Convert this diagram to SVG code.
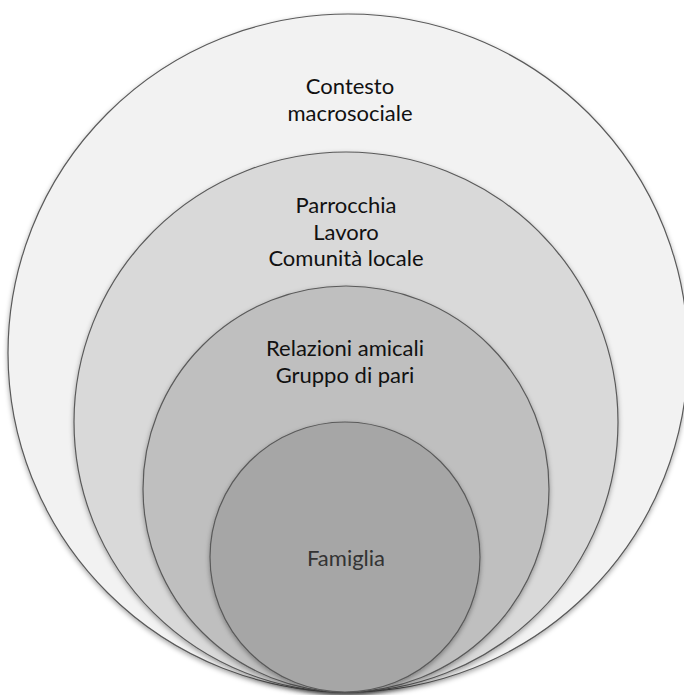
<svg xmlns="http://www.w3.org/2000/svg" width="684" height="695" viewBox="0 0 684 695">
<defs>
<filter id="sh" x="-5%" y="-5%" width="110%" height="112%">
<feDropShadow dx="0" dy="2" stdDeviation="2.5" flood-color="#000" flood-opacity="0.35"/>
</filter>
</defs>
<style>
.ring{stroke:#5a5a5a;stroke-width:1.2;filter:url(#sh)}
.t{font-family:Lato,"Open Sans","Liberation Sans",sans-serif;font-size:22px;text-anchor:middle;fill:#111}
</style>
<rect width="684" height="695" fill="#ffffff"/>
<g id="contesto">
<ellipse class="ring" cx="348" cy="353" rx="340" ry="339" fill="#f2f2f2"/>
<text class="t" x="350" y="94">Contesto</text>
<text class="t" x="350" y="121">macrosociale</text>
</g>
<g id="parrocchia">
<ellipse class="ring" cx="346" cy="422" rx="272" ry="270" fill="#d9d9d9"/>
<text class="t" x="346" y="213">Parrocchia</text>
<text class="t" x="346" y="240">Lavoro</text>
<text class="t" x="346" y="266">Comunità locale</text>
</g>
<g id="relazioni">
<ellipse class="ring" cx="346" cy="489" rx="203" ry="203" fill="#bfbfbf"/>
<text class="t" x="345" y="356">Relazioni amicali</text>
<text class="t" x="345" y="383">Gruppo di pari</text>
</g>
<g id="famiglia">
<ellipse class="ring" cx="345" cy="557" rx="135" ry="135" fill="#a6a6a6"/>
<text class="t" x="346" y="566" style="fill:#333">Famiglia</text>
</g>
<g id="connectors"/>
</svg>
